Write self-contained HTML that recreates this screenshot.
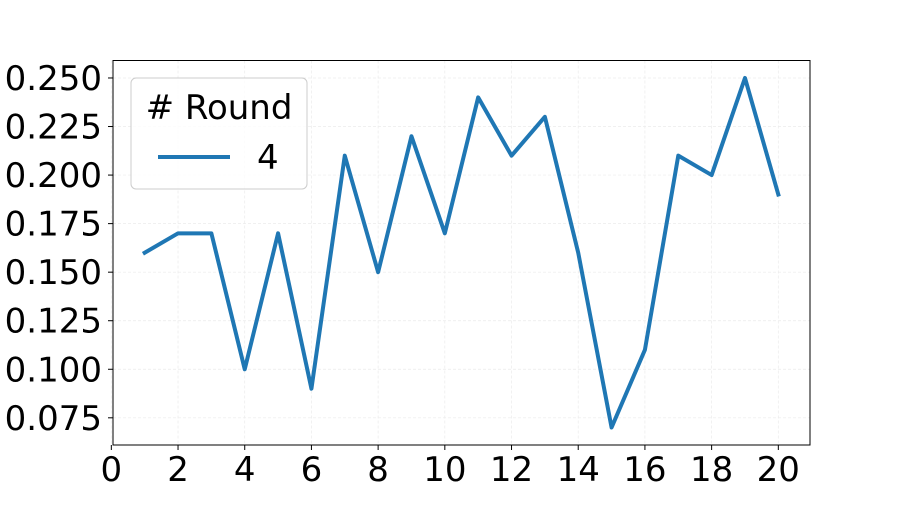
<!DOCTYPE html>
<html><head><meta charset="utf-8"><style>
body{margin:0;background:#fff;}
svg text{font-family:"DejaVu Sans","Liberation Sans",sans-serif;fill:#000;}
</style></head><body>
<svg id="chart" width="900" height="500" xmlns="http://www.w3.org/2000/svg">
<g id="grid"></g>
<g id="xticks"></g>
<g id="yticks"></g>
<rect x="113" y="60.5" width="697" height="384.5" fill="none" stroke="#000" stroke-width="1"/>
<path id="series" fill="none" stroke="#1f77b4" stroke-width="4" stroke-linejoin="round" stroke-linecap="square"/>
<g>
<rect x="131" y="78" width="176" height="111" rx="5" fill="#fff" fill-opacity="0.8" stroke="#ccc"/>
<text x="219" y="119" font-size="34" text-anchor="middle"># Round</text>
<line x1="158" y1="157" x2="230" y2="157" stroke="#1f77b4" stroke-width="4"/>
<text x="257" y="169" font-size="34">4</text>
</g>
</svg>
<script>
const xs=[1,2,3,4,5,6,7,8,9,10,11,12,13,14,15,16,17,18,19,20];
const vals=[0.16,0.17,0.17,0.10,0.17,0.09,0.21,0.15,0.22,0.17,0.24,0.21,0.23,0.16,0.07,0.11,0.21,0.20,0.25,0.19];
const xTicks=[0,2,4,6,8,10,12,14,16,18,20];
const yTicks=[0.075,0.100,0.125,0.150,0.175,0.200,0.225,0.250];
const L=113,R=810,T=60.5,B=445;
const xmin=0.05,xmax=20.95,ymin=0.061,ymax=0.259;
const sx=v=>L+(v-xmin)/(xmax-xmin)*(R-L);
const sy=v=>B-(v-ymin)/(ymax-ymin)*(B-T);
const NS="http://www.w3.org/2000/svg";
const g=document.getElementById('grid'),gx=document.getElementById('xticks'),gy=document.getElementById('yticks');
function mk(t,a,p){const e=document.createElementNS(NS,t);for(const k in a)e.setAttribute(k,a[k]);p.appendChild(e);return e;}
xTicks.forEach(v=>{const x=sx(v);
 const gl=mk('line',{x1:x,x2:x,y1:T,y2:B,stroke:'#ebebeb','stroke-dasharray':'3,2','stroke-width':0.7},g);
 
 
 const tk=mk('line',{x1:x,x2:x,y1:B,y2:B+5,stroke:'#000'},gx);
 
 
 const t=mk('text',{x:x,y:B+36,'font-size':34,'text-anchor':'middle'},gx);t.textContent=v;
 
 
});
yTicks.forEach(v=>{const y=sy(v);
 const gl=mk('line',{x1:L,x2:R,y1:y,y2:y,stroke:'#ebebeb','stroke-dasharray':'3,2','stroke-width':0.7},g);
 
 
 const tk=mk('line',{x1:L-5,x2:L,y1:y,y2:y,stroke:'#000'},gy);
 
 
 const t=mk('text',{x:L-11,y:y+12,'font-size':34,'text-anchor':'end'},gy);t.textContent=v.toFixed(3);
 
 
});
document.getElementById('series').setAttribute('d',xs.map((x,i)=>(i?'L':'M')+sx(x)+','+sy(vals[i])).join(' '));
</script>
</body></html>
